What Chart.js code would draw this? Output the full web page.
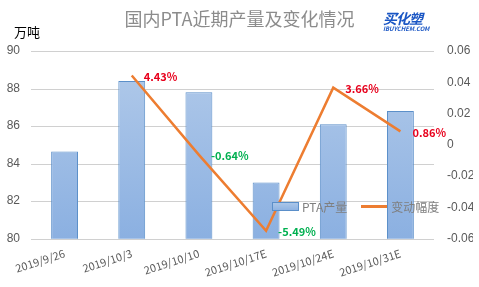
<!DOCTYPE html>
<html>
<head>
<meta charset="utf-8">
<script src="https://cdn.jsdelivr.net/npm/chart.js@4"></script>
<style>
  body { margin: 0; background: #fff; }
  #wrap { position: relative; width: 479px; height: 287px; font-family: "Noto Sans CJK SC", "Noto Sans", sans-serif; }
  #title { position: absolute; left: 0; width: 479px; top: 5px; text-align: center; font-size: 18px; color: #8c8c8c; }
  #unit { position: absolute; left: 14px; top: 22px; font-size: 13px; color: #000; }
  #logo { position: absolute; left: 383px; top: 9px; color: #1a56c4; font-style: italic; font-weight: bold; line-height: 1; }
  #logo .cn { font-size: 14px; letter-spacing: -1px; }
  #logo .en { font-size: 6px; display: block; margin-top: 1px; }
  #legend { position: absolute; left: 272px; top: 198px; font-size: 12px; color: #7f7f7f; display: flex; align-items: center; }
  .sw-bar { width: 25px; height: 7px; background: linear-gradient(#abc6e8, #8fb3e2); border: 1px solid #5b8fc9; margin-right: 3px; }
  .sw-line { width: 26px; height: 2.5px; background: #ed7d31; margin: 0 4px 0 14px; }
</style>
</head>
<body>
<div id="wrap">
  <canvas id="chart" width="479" height="287"></canvas>
  <div id="title">国内PTA近期产量及变化情况</div>
  <div id="unit">万吨</div>
  <div id="logo"><span class="cn">买化塑</span><span class="en">IBUYCHEM.COM</span></div>
  <div id="legend"><span class="sw-bar"></span>PTA产量<span class="sw-line"></span>变动幅度</div>
</div>
<script>
const categories = ['2019/9/26', '2019/10/3', '2019/10/10', '2019/10/17E', '2019/10/24E', '2019/10/31E'];
const output = [84.65, 88.4, 87.8, 83.0, 86.1, 86.8];
const change = [null, 0.0443, -0.0064, -0.0549, 0.0366, 0.0086];
const changeLabels = [null, '4.43%', '-0.64%', '-5.49%', '3.66%', '0.86%'];

const ctx = document.getElementById('chart').getContext('2d');

// 网格线（按左轴刻度画）
const gridLines = {
    id: 'gridLines',
    beforeDatasetsDraw(chart) {
        const y = chart.scales.y;
        const area = chart.chartArea;
        const c = chart.ctx;
        c.save();
        c.fillStyle = '#d0d0d0';
        y.ticks.forEach(t => {
            const py = Math.round(y.getPixelForValue(t.value));
            c.fillRect(area.left, py, area.right - area.left, 1);
        });
        c.restore();
    }
};

// 折线上的百分比标签
const pointLabels = {
    id: 'pointLabels',
    afterDatasetsDraw(chart) {
        const meta = chart.getDatasetMeta(1);
        const c = chart.ctx;
        c.save();
        c.font = 'bold 11px "Noto Sans CJK SC", sans-serif';
        c.textBaseline = 'middle';
        meta.data.forEach((pt, i) => {
            if (change[i] === null) return;
            c.fillStyle = change[i] >= 0 ? '#e8001c' : '#00b050';
            c.fillText(changeLabels[i], pt.x + 12, pt.y + 1);
        });
        c.restore();
    }
};

function barGradient(context) {
    const area = context.chart.chartArea;
    if (!area) return '#9dbde6';
    const g = context.chart.ctx.createLinearGradient(0, area.top, 0, area.bottom);
    g.addColorStop(0, '#b3cbea');
    g.addColorStop(1, '#8bb0e1');
    return g;
}

new Chart(ctx, {
    type: 'bar',
    data: {
        labels: categories,
        datasets: [{
            type: 'bar',
            label: 'PTA产量',
            data: output,
            yAxisID: 'y',
            backgroundColor: barGradient,
            borderColor: '#5b8fc9',
            borderWidth: 1,
            barPercentage: 0.4,
            categoryPercentage: 1,
            order: 2
        }, {
            type: 'line',
            label: '变动幅度',
            data: change,
            yAxisID: 'y1',
            borderColor: '#ed7d31',
            borderWidth: 2.5,
            pointRadius: 0,
            tension: 0,
            order: 1
        }]
    },
    options: {
        responsive: false,
        animation: false,
        layout: { padding: { top: 51, bottom: 0, left: 7, right: 6 } },
        plugins: { legend: { display: false }, tooltip: { enabled: false } },
        scales: {
            x: {
                grid: { display: false, drawTicks: false },
                border: { display: false },
                ticks: { color: '#595959', font: { size: 11, family: '"Noto Sans CJK SC", sans-serif' },
                    minRotation: 18, maxRotation: 18, autoSkip: false, padding: 8 },
                afterFit: s => { s.paddingLeft = 0; s.paddingRight = 0; }
            },
            y: {
                type: 'linear',
                position: 'left',
                min: 80, max: 90,
                ticks: { stepSize: 2, color: '#595959', font: { size: 12 }, padding: 11 },
                grid: { display: false, drawTicks: false },
                border: { display: false },
                afterFit: s => { s.width = 24; }
            },
            y1: {
                type: 'linear',
                position: 'right',
                min: -0.06, max: 0.06,
                ticks: { stepSize: 0.02, color: '#595959', font: { size: 12 }, padding: 13,
                    callback: v => Math.abs(v) < 1e-9 ? '0' : v.toFixed(2) },
                grid: { display: false, drawTicks: false },
                border: { display: false },
                afterFit: s => { s.width = 39; }
            }
        }
    },
    plugins: [gridLines, pointLabels]
});
</script>
</body>
</html>
